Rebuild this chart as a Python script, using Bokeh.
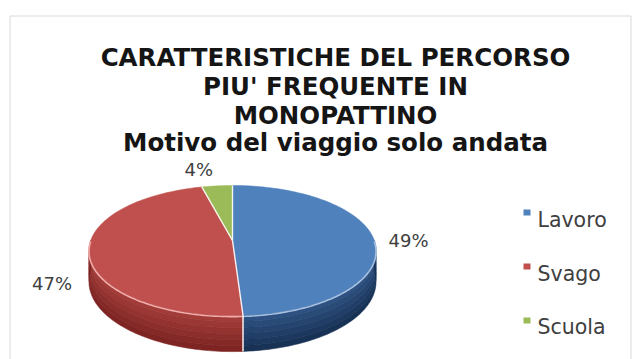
import numpy as np
from bokeh.plotting import figure
from bokeh.models import Range1d, ColumnDataSource
from bokeh.core.properties import value
from bokeh.embed import file_html
from bokeh.resources import INLINE

# ---- data ----
categories = ["Lavoro", "Svago", "Scuola"]
values = [49, 47, 4]
title_lines = ["CARATTERISTICHE DEL PERCORSO", "PIU' FREQUENTE IN", "MONOPATTINO",
               "Motivo del viaggio solo andata"]

# ---- styles ----
colors_top = ["#4F81BD", "#C0504D", "#9BBB59"]
colors_rim = ["#A9C2E2", "#F0ADAB", "#D2E4AE"]
colors_side_hi = ["#2F5485", "#A63E3B", "#7E9B45"]
colors_side_lo = ["#162F52", "#7A2220", "#5A7430"]

W, H = 637, 359
X0, Y0 = 0, 0
p = figure(width=W, height=H, x_range=Range1d(X0, X0 + W), y_range=Range1d(Y0 + H, Y0),
           output_backend="svg", toolbar_location=None, min_border=0,
           x_axis_location=None, y_axis_location=None)
p.grid.visible = False
p.outline_line_color = None
p.background_fill_color = "white"
p.border_fill_color = "white"

# chart frame
p.line([9.5, 9.5, 630.5, 630.5], [362, 15.5, 15.5, 362], line_color="#D9D9D9", line_width=1)

# ---- 3D pie projection (perspective) ----
cx, cy = 232.0, 240.0
A, B, K, D = 141.8, 63.5, 0.1538, 30.5


def proj(r, th, depth=0.0):
    th = np.asarray(th, dtype=float)
    u = r * np.sin(th)
    v = r * np.cos(th)
    w = 1 + K * v
    return cx + A * u / w, cy - B * v / w + depth * D / w


total = float(sum(values))
bounds = np.concatenate([[0.0], np.cumsum(values) / total * 2 * np.pi])


def hexmix(c1, c2, t):
    a = [int(c1[i:i + 2], 16) for i in (1, 3, 5)]
    b = [int(c2[i:i + 2], 16) for i in (1, 3, 5)]
    return "#%02x%02x%02x" % tuple(int(round(a[k] + (b[k] - a[k]) * t)) for k in range(3))


# sides
nb = 6
sxs, sys_, scol = [], [], []
for i in range(len(values)):
    a0, a1 = max(bounds[i], np.pi / 2), min(bounds[i + 1], 3 * np.pi / 2)
    if a1 <= a0:
        continue
    th = np.linspace(a0, a1, 80)
    for j in range(nb):
        d0, d1 = j / nb, (j + 1) / nb
        xt, yt = proj(1.0, th, d0)
        xb, yb = proj(1.0, th[::-1], d1)
        sxs.append(list(np.concatenate([xt, xb])))
        sys_.append(list(np.concatenate([yt, yb])))
        scol.append(hexmix(colors_side_hi[i], colors_side_lo[i], (j + 0.5) / nb))
p.patches(sxs, sys_, fill_color=scol, line_color=scol, line_width=0.6)

# top faces
txs, tys = [], []
for i in range(len(values)):
    th = np.linspace(bounds[i], bounds[i + 1], 120)
    x, y = proj(1.0, th)
    txs.append([cx] + list(x))
    tys.append([cy] + list(y))
p.patches(txs, tys, fill_color=colors_top, line_color=colors_top, line_width=0.5)

# rim highlight
for i in range(len(values)):
    a0, a1 = max(bounds[i], np.pi / 2), min(bounds[i + 1], 3 * np.pi / 2)
    if a1 <= a0:
        continue
    th = np.linspace(a0, a1, 80)
    x, y = proj(1.0, th, 0.03)
    p.line(x, y, line_color=colors_rim[i], line_width=1.6)

# separators
for b in bounds[:-1]:
    x, y = proj(1.0, b)
    p.line([cx, float(x)], [cy, float(y)], line_color="white", line_width=1.4, line_alpha=0.9)
    if np.pi / 2 < b < 3 * np.pi / 2:
        x2, y2 = proj(1.0, b, 1.0)
        p.line([float(x), float(x2)], [float(y), float(y2)], line_color="white", line_width=1.4)

# data labels
mids = (bounds[:-1] + bounds[1:]) / 2
nudge_x = [0, 0, -15]
nudge_y = [2.5, 30, -5]
lx, ly = proj(1.25, mids)
lab = ColumnDataSource(dict(x=lx + np.array(nudge_x), y=ly + np.array(nudge_y),
                            t=["%d%%" % v for v in values]))
p.text("x", "y", text="t", source=lab, text_font=value("DejaVu Sans"), text_font_size="18px",
       text_color="#404040", text_align="center", text_baseline="middle")

# title
tb = [57, 86, 114.5, 142]
p.text([335] * 4, tb, text=title_lines, text_font=value("DejaVu Sans"),
       text_font_style="bold", text_font_size="24.5px", text_color="#151515",
       text_align="center", text_baseline="alphabetic")

# legend
leg_y = [212, 266, 320]
p.rect([526.5] * 3, leg_y, width=7, height=6, fill_color=colors_top, line_color=None)
p.text([537] * 3, [219, 273, 326.5], text=categories, text_font=value("DejaVu Sans"),
       text_font_size="20.5px", text_color="#404040", text_align="left",
       text_baseline="alphabetic")

open("out.html", "w").write(file_html(p, INLINE))
